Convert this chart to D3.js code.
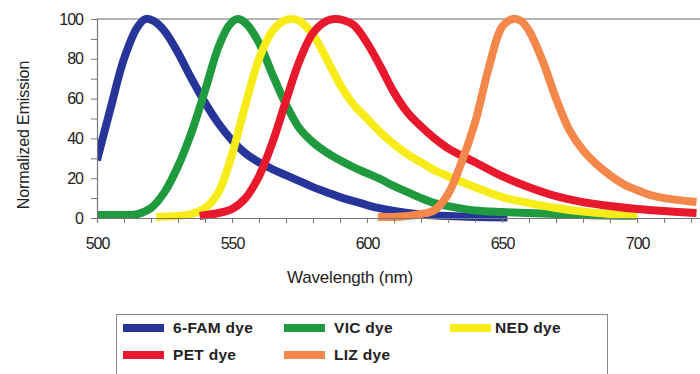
<!DOCTYPE html>
<html>
<head>
<meta charset="utf-8">
<script src="https://cdn.jsdelivr.net/npm/d3@7"></script>
<style>
  html, body { margin: 0; padding: 0; background: #fff; }
  svg { display: block; }
  text { font-family: Arial, "Liberation Sans", sans-serif; }
</style>
</head>
<body>
<svg id="chart" width="700" height="374"></svg>
<script>
// ---- Data (wavelength nm, normalized emission) ----
const famWl  = [500,505,510,515,518,521,525,530,535,540,545,550,555,560,565,570,575,580,585,590,595,600,605,610,615,620,630,640,652];
const famVal = [29,55,80,96,100,99,94,83,70,58,47.5,39,32.5,28,24.5,21.5,18.5,15.5,13,10.5,8.5,6.5,4.8,3.5,2.5,1.8,1,0.5,0.3];

const vicWl  = [500,505,510,515,520,525,530,535,540,545,549,552,555,560,565,570,575,580,585,590,595,600,605,610,615,620,625,630,640,650,660,670,680,690,700];
const vicVal = [1.5,1.5,1.5,2,5,13,26,43,64,86,97,100,98,88,72,57,45,38,33,29,25.5,22.5,19.5,16,13,10,7.5,6,3.8,3,2.5,2,1.5,1.2,1];

const nedWl  = [522,530,535,540,545,550,555,560,565,569,572,575,580,585,590,595,600,605,610,615,620,625,630,640,650,660,670,680,690,700];
const nedVal = [0.5,1,2,5,13,32,57,80,94,99,100,99,92,80,67,57,50,43,37,32,28,24,21,15.5,10.5,7.5,5,3.2,2,1.2];

const petWl  = [538,545,550,555,560,565,570,575,580,585,588,591,595,600,605,610,615,620,625,630,640,650,660,670,680,690,700,710,722];
const petVal = [1,2.5,4.5,10,21,38,59,79,93,99,100,99.5,97,88,76,63,53,46,40,35,28,21,15.5,11,8,6,4.5,3.5,2.5];

const lizWl  = [604,610,615,620,625,630,635,640,645,650,654,657,660,665,670,675,680,685,690,695,700,705,710,722];
const lizVal = [0.5,0.5,1,2,4,12,28,48,75,96,100,99,94,79,60,44,34,27,21.5,17,14,11.5,10,8];

const dyeNames  = ["6-FAM dye","VIC dye","NED dye","PET dye","LIZ dye"];
const dyeColors = ["#27359a","#1f9a3f","#f7ec1a","#e8192c","#f3884a"];

const xTicks = [500,550,600,650,700];
const yTicks = [0,20,40,60,80,100];

// ---- Layout ----
const svg = d3.select("#chart");
const x = d3.scaleLinear().domain([500, 723.3]).range([97, 700]);
const y = d3.scaleLinear().domain([0, 100]).range([218, 19]);

// top reference line
svg.append("line")
  .attr("x1", x(500)).attr("x2", 700)
  .attr("y1", y(100)).attr("y2", y(100))
  .attr("stroke", "#9a9a9a").attr("stroke-width", 1.5);

// curves
const series = [
  {wl: famWl, v: famVal},
  {wl: vicWl, v: vicVal},
  {wl: nedWl, v: nedVal},
  {wl: petWl, v: petVal},
  {wl: lizWl, v: lizVal}
];
const line = d3.line().x(d => x(d[0])).y(d => y(d[1])).curve(d3.curveCatmullRom.alpha(0.5));
svg.append("clipPath").attr("id","plotclip")
  .append("rect").attr("x", x(500)).attr("y", 0).attr("width", 700).attr("height", 222);
series.forEach((s, i) => {
  const pts = s.wl.map((w, k) => [w, s.v[k]]);
  svg.append("path")
    .attr("d", line(pts))
    .attr("fill", "none")
    .attr("stroke", dyeColors[i])
    .attr("stroke-width", 8)
    .attr("stroke-linejoin", "round")
    .attr("clip-path", "url(#plotclip)");
});

// axes
const xAxis = d3.axisBottom(x)
  .tickValues(d3.range(500, 721, 10))
  .tickSize(5).tickPadding(15)
  .tickFormat(d => xTicks.includes(d) ? d : "");
const gx = svg.append("g").attr("transform", `translate(0,${y(0)})`).call(xAxis);
gx.select(".domain").attr("stroke", "#777").attr("stroke-width", 1.2);
gx.selectAll(".tick line").attr("stroke", "#777");
gx.selectAll(".tick text").attr("font-size", 16).attr("letter-spacing", "-1px").attr("fill", "#222");

const yAxis = d3.axisLeft(y)
  .tickValues(d3.range(0, 101, 10))
  .tickSize(6).tickPadding(8)
  .tickFormat(d => yTicks.includes(d) ? d : "");
const gy = svg.append("g").attr("transform", `translate(${x(500)},0)`).call(yAxis);
gy.select(".domain").attr("stroke", "#777").attr("stroke-width", 1.2);
gy.selectAll(".tick line").attr("stroke", "#777");
gy.selectAll(".tick text").attr("font-size", 16).attr("letter-spacing", "-1px").attr("fill", "#222");

// axis titles
svg.append("text")
  .attr("x", 350).attr("y", 283)
  .attr("text-anchor", "middle")
  .attr("font-size", 17).attr("letter-spacing", "-0.2px").attr("fill", "#222")
  .text("Wavelength (nm)");
svg.append("text")
  .attr("transform", "translate(29,135) rotate(-90)")
  .attr("text-anchor", "middle")
  .attr("font-size", 16).attr("letter-spacing", "-0.1px").attr("fill", "#222")
  .text("Normalized Emission");

// legend
svg.append("rect")
  .attr("x", 116.5).attr("y", 314.5).attr("width", 491).attr("height", 80)
  .attr("fill", "none").attr("stroke", "#8a8a8a").attr("stroke-width", 1);
const legPos = [[123,328],[284,328],[450,328],[123,355],[284,355]];
dyeNames.forEach((name, i) => {
  const [lx, ly] = legPos[i];
  svg.append("rect")
    .attr("x", lx).attr("y", ly - 4).attr("width", 41).attr("height", 8)
    .attr("fill", dyeColors[i]);
  svg.append("text")
    .attr("x", lx + (i === 2 ? 45 : 50)).attr("y", ly + 5)
    .attr("font-size", 15.5).attr("font-weight", "bold").attr("fill", "#222")
    .attr("letter-spacing", "0.3px")
    .text(name);
});
</script>
</body>
</html>
